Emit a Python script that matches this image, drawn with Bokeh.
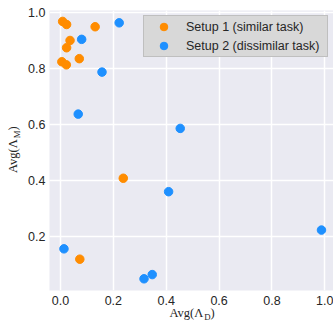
import math
from bokeh.plotting import figure
from bokeh.models import Title, Range1d, FixedTicker, CustomJSTickFormatter
from bokeh.embed import file_html
from bokeh.resources import INLINE

# Data
setup1_x = [0.008, 0.023, 0.131, 0.036, 0.023, 0.071, 0.005, 0.022, 0.2375, 0.073]
setup1_y = [0.969, 0.958, 0.950, 0.901, 0.875, 0.836, 0.825, 0.814, 0.409, 0.120]
setup2_x = [0.222, 0.080, 0.157, 0.067, 0.453, 0.013, 0.316, 0.347, 0.409, 0.9875]
setup2_y = [0.964, 0.905, 0.788, 0.638, 0.587, 0.157, 0.050, 0.065, 0.361, 0.224]
series_labels = ["Setup 1 (similar task)", "Setup 2 (dissimilar task)"]
x_ticks = [0.0, 0.2, 0.4, 0.6, 0.8, 1.0]
y_ticks = [0.2, 0.4, 0.6, 0.8, 1.0]

X0, X1 = -0.0417, 1.033
Y0, Y1 = 0.0082, 1.008
W, H = 333, 326
FL, FT, FB = 49, 10, 290  # frame left / top / bottom (px)

p = figure(width=W, height=H, x_range=Range1d(X0, X1), y_range=Range1d(Y0, Y1),
           output_backend="svg", toolbar_location=None,
           min_border_left=FL, min_border_right=0, min_border_top=FT,
           min_border_bottom=H - FB)
p.background_fill_color = "#eaeaf2"
p.border_fill_color = "white"
p.outline_line_color = None

for ax, tk, so in ((p.xaxis[0], x_ticks, 5), (p.yaxis[0], y_ticks, 4)):
    ax.ticker = FixedTicker(ticks=tk)
    ax.formatter = CustomJSTickFormatter(code="return tick.toFixed(1);")
    ax.axis_line_color = None
    ax.major_tick_line_color = None
    ax.minor_tick_line_color = None
    ax.major_tick_out = 0
    ax.major_tick_in = 0
    ax.major_label_standoff = so
    ax.major_label_text_font = "Liberation Sans"
    ax.major_label_text_font_size = "12.5px"
    ax.major_label_text_color = "#262626"

for g in (p.xgrid[0], p.ygrid[0]):
    g.grid_line_color = "white"
    g.grid_line_width = 1.5

p.scatter(setup1_x, setup1_y, size=8.5, color="#ff8c00", legend_label=series_labels[0])
p.scatter(setup2_x, setup2_y, size=8.5, color="#1e90ff", legend_label=series_labels[1])

lg = p.legend[0]
lg.location = "top_right"
lg.margin = 5
lg.padding = 1
lg.spacing = 0
lg.glyph_width = 37
lg.glyph_height = 19
lg.label_height = 19
lg.label_width = 140
lg.label_standoff = 4
lg.label_text_font = "Liberation Sans"
lg.label_text_font_size = "12.5px"
lg.label_text_color = "#262626"
lg.background_fill_color = "#d8d8d8"
lg.background_fill_alpha = 1.0
lg.border_line_color = "#a6a6a6"
lg.border_line_width = 1

SERIF = "Liberation Serif"
BIG, SMALL = 12.5, 8.75
HB, HS = 1.107 * BIG, 1.107 * SMALL   # text box heights
AB, AS = 0.891 * BIG, 0.891 * SMALL   # ascents

def title(side, text, fs, off, s):
    p.add_layout(Title(text=text, text_font=SERIF, text_font_size=f"{fs}px",
                       text_color="#262626", text_font_style="normal",
                       align="left", vertical_align="top",
                       offset=off, standoff=s), side)

# x label Avg(Λ_D): first piece takes a slot, the others collapse onto its edge
xb = 319.0
F0 = FB + 19.4
s1 = 2 * ((xb - AB) - F0)
F1 = F0 + max(0.0, 2 + HB + s1)
title("below", "Avg(Λ", BIG, 120.0, s1)
title("below", "D", SMALL, 154.7, 2 * ((xb + 2.5 - AS) - F1))
title("below", ")", BIG, 161.0, 2 * ((xb - AB) - F1))

# y label Avg(Λ_M): all pieces collapse onto the axis edge (rotated text)
yb = 16.8
E0 = FL - 24.3
title("left", "Avg(Λ", BIG, 117.5, 2 * ((yb - AB) - E0))
title("left", "M", SMALL, 152.2, 2 * ((yb + 2.5 - AS) - E0))
title("left", ")", BIG, 160.0, 2 * ((yb - AB) - E0))

open("out.html", "w").write(file_html(p, INLINE))
